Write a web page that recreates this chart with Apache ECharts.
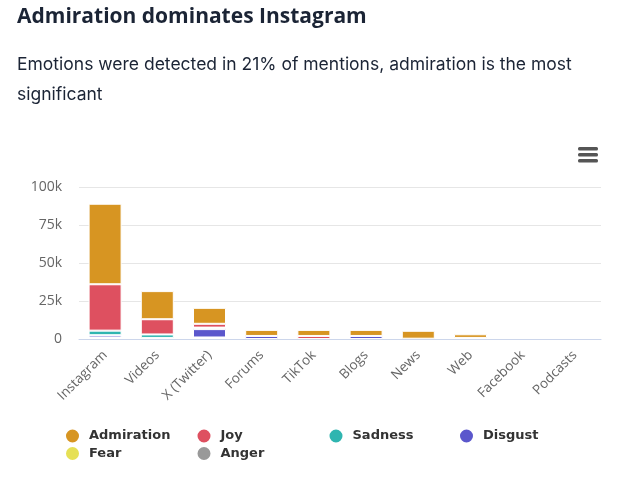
<!DOCTYPE html>
<html>
<head>
<meta charset="utf-8">
<style>html,body{margin:0;padding:0;background:#fff}#chart{width:625px;height:500px}</style>
<script src="https://cdn.jsdelivr.net/npm/echarts@6/dist/echarts.min.js"></script>
</head>
<body>
<div id="chart"></div>
<script>
const categories = ['Instagram','Videos','X (Twitter)','Forums','TikTok','Blogs','News','Web','Facebook','Podcasts'];
const yTicks = ['0','25k','50k','75k','100k'];
// null = no visible segment in the picture
const admiration = [53000,18500,10500,4000,4000,4000,5200,2400,null,null];
const joy = [30500,10000,2500,null,2000,null,null,700,null,null];
const sadness = [3000,2300,1000,null,null,null,null,null,null,null];
const disgust = [1500,300,5500,2000,null,2000,null,null,null,null];
const fear = [500,200,500,null,null,null,200,null,null,null];
const anger = [500,200,500,null,null,null,null,null,null,null];

const chart = echarts.init(document.getElementById('chart'));

// first series sits at the bottom of the stack, so anger goes first
const bar = (name, data, color) => ({
    name, data, type:'bar', stack:'emotions', barWidth:33,
    itemStyle:{color, borderColor:'#fff', borderWidth:1}
});
const legend = (left, data) => ({
    left, top:422.5, orient:'vertical', data, icon:'circle',
    itemWidth:15, itemHeight:15, itemGap:0.5,
    textStyle:{fontFamily:'DejaVu Sans', fontWeight:'bold', fontSize:13, color:'#333', padding:[0,0,0,4]}
});

chart.setOption({
    animation:false,
    title:[
        {text:'Admiration dominates Instagram', left:12, top:2,
            textStyle:{fontFamily:'Open Sans', fontWeight:'bold', fontSize:21, color:'#1b2435'}},
        {text:'Emotions were detected in 21% of mentions, admiration is the most\nsignificant', left:12, top:45,
            textStyle:{fontFamily:'Inter', fontWeight:'normal', fontSize:17.5, lineHeight:30, color:'#1b2435'}}
    ],
    legend:[
        legend(59,['Admiration','Fear']),
        legend(190.5,['Joy','Anger']),
        legend(322.5,['Sadness']),
        legend(453,['Disgust'])
    ],
    grid:{left:79, right:24, top:187, height:152},
    xAxis:{
        type:'category', data:categories, z:3,
        axisLine:{lineStyle:{color:'#ccd6eb'}},
        axisTick:{show:false},
        axisLabel:{rotate:45, interval:0, margin:14, fontFamily:'Open Sans', fontSize:13.5, color:'#666'}
    },
    yAxis:{
        type:'value', min:0, max:100000, interval:25000,
        axisLabel:{
            formatter:v => yTicks[v/25000], margin:17,
            fontFamily:'Open Sans', fontSize:14, color:'#666'
        },
        splitLine:{showMinLine:false, lineStyle:{color:'#e6e6e6'}}
    },
    series:[
        bar('Anger',anger,'#999999'),
        bar('Fear',fear,'#e6e055'),
        bar('Disgust',disgust,'#5b57cc'),
        bar('Sadness',sadness,'#2fb5b0'),
        bar('Joy',joy,'#de5060'),
        bar('Admiration',admiration,'#d79522')
    ],
    graphic:[147,153,159].map(y => ({
        type:'rect', shape:{x:578, y:y, width:20, height:3.5, r:1.5}, style:{fill:'#555'}
    }))
});
</script>
</body>
</html>
